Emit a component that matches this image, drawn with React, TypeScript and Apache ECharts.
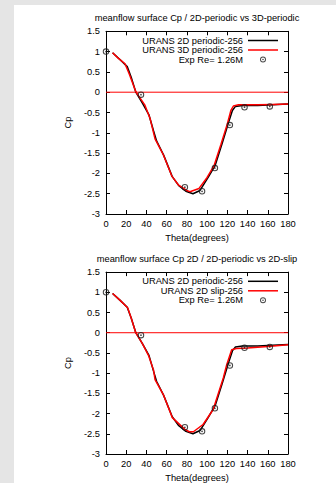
import React, { useEffect, useRef } from 'react';
import * as echarts from 'echarts';

const TITLES = [
  'meanflow surface Cp / 2D-periodic vs 3D-periodic',
  'meanflow surface Cp 2D / 2D-periodic vs 2D-slip',
];
const NAME_2D_PERIODIC = 'URANS 2D periodic-256';
const NAME_3D_PERIODIC = 'URANS 3D periodic-256';
const NAME_2D_SLIP = 'URANS 2D slip-256';
const NAME_EXP = 'Exp Re= 1.26M';
const X_NAME = 'Theta(degrees)';
const Y_NAME = 'Cp';

const X_RANGE = [0, 180, 20];
const Y_RANGE = [-3, 1.5, 0.5];

const urans2dPeriodic: number[][] = [
  [6.5, 0.97], [14, 0.8], [21, 0.63], [25, 0.36], [29.5, 0.0], [36, -0.27],
  [42.5, -0.56], [47, -0.95], [50, -1.2], [57, -1.55], [65.5, -2.08], [72, -2.3],
  [79, -2.44], [86, -2.5], [93, -2.42], [101, -2.1], [108, -1.8], [115, -1.25],
  [121.5, -0.72], [125, -0.45], [128, -0.35], [135, -0.33], [150, -0.33],
  [165, -0.31], [180, -0.29],
];
const urans3dPeriodic: number[][] = [
  [6.5, 0.97], [12, 0.84], [18.8, 0.7], [23, 0.45], [29.7, 0.0], [38.5, -0.32],
  [43.5, -0.64], [48.5, -1.15], [56.7, -1.54], [65, -2.06], [71.5, -2.28],
  [79.8, -2.42], [83, -2.45], [92, -2.37], [100, -2.1], [107, -1.8], [113.5, -1.3],
  [120, -0.78], [123.5, -0.45], [126, -0.34], [131, -0.31], [150, -0.31],
  [165, -0.3], [180, -0.29],
];
const urans2dSlip: number[][] = [
  [6.5, 0.97], [14, 0.8], [21.4, 0.62], [25, 0.36], [29.4, 0.0], [36, -0.27],
  [42, -0.56], [47, -0.92], [48.5, -1.16], [56.7, -1.53], [65.6, -2.1], [78, -2.39],
  [82.4, -2.45], [86.4, -2.45], [96, -2.27], [106, -1.9], [116, -1.12],
  [119.4, -0.79], [124.3, -0.42], [129, -0.39], [140, -0.38], [160, -0.34],
  [180, -0.3],
];
const expData: number[][] = [
  [0, 1.0], [34.6, -0.06], [78, -2.34], [95, -2.44], [107.7, -1.87],
  [122.5, -0.81], [137, -0.37], [162, -0.35],
];
const zeroLine: number[][] = [[0, 0], [180, 0]];

const FONT = 'Liberation Sans, Arial, sans-serif';
const FS = 9.3;
const EXP_SYMBOL =
  'path://M0,10 A10,10 0 1,1 20,10 A10,10 0 1,1 0,10 Z M3.2,10 A6.8,6.8 0 1,0 16.8,10 A6.8,6.8 0 1,0 3.2,10 Z M7.3,10 A2.7,2.7 0 1,1 12.7,10 A2.7,2.7 0 1,1 7.3,10 Z';
const LINE_ICON = 'path://M0,0 L30,0 L30,1.5 L0,1.5 Z';

const GRID_TOPS = [31.3, 272.1];
const PANEL_OFFSET = 240.8;

function buildOption() {
  const txt = { fontFamily: FONT, fontSize: FS, color: '#000' };
  const grids: any[] = [];
  const xAxes: any[] = [];
  const yAxes: any[] = [];
  const titles: any[] = [];
  const legends: any[] = [];
  const series: any[] = [];

  const secondNames = [NAME_3D_PERIODIC, NAME_2D_SLIP];
  const secondData = [urans3dPeriodic, urans2dSlip];

  GRID_TOPS.forEach((top, i) => {
    grids.push({ left: 106, top, width: 182, height: 182.7, show: false });
    const axisCommon = {
      axisLine: { show: true, onZero: false, lineStyle: { color: '#000', width: 1 } },
      axisTick: { show: true, inside: true, length: 4, lineStyle: { color: '#000' } },
      splitLine: { show: false },
    };
    const baseX = {
      type: 'value', gridIndex: i, min: X_RANGE[0], max: X_RANGE[1], interval: X_RANGE[2],
      ...axisCommon,
    };
    const baseY = {
      type: 'value', gridIndex: i, min: Y_RANGE[0], max: Y_RANGE[1], interval: Y_RANGE[2],
      ...axisCommon,
    };
    xAxes.push({
      ...baseX, position: 'bottom',
      axisLabel: { ...txt, margin: 5 },
      name: X_NAME, nameLocation: 'middle', nameGap: 19, nameTextStyle: { ...txt },
    });
    xAxes.push({ ...baseX, position: 'top', axisLabel: { show: false } });
    yAxes.push({
      ...baseY, position: 'left',
      axisLabel: { ...txt, margin: 6 },
      name: Y_NAME, nameLocation: 'middle', nameGap: 34, nameTextStyle: { ...txt },
    });
    yAxes.push({ ...baseY, position: 'right', axisLabel: { show: false } });

    titles.push({
      text: TITLES[i], left: 197, top: 13.4 + i * PANEL_OFFSET, textAlign: 'center', padding: 0,
      textStyle: { ...txt, fontWeight: 'normal' },
    });
    legends.push({
      orient: 'vertical', align: 'right', right: 58, top: 36 + i * PANEL_OFFSET, padding: 0,
      itemWidth: 30, itemHeight: 6, itemGap: 0.5,
      textStyle: { ...txt },
      data: [
        { name: NAME_2D_PERIODIC, icon: LINE_ICON },
        { name: secondNames[i], icon: LINE_ICON },
        { name: NAME_EXP },
      ],
      selectedMode: false,
    });

    const xi = i * 2;
    const yi = i * 2;
    series.push({
      type: 'line', name: 'zero', xAxisIndex: xi, yAxisIndex: yi, data: zeroLine,
      symbol: 'none', lineStyle: { color: '#ff0000', width: 1 }, itemStyle: { color: '#ff0000' },
      silent: true, z: 1,
    });
    series.push({
      type: 'line', name: NAME_2D_PERIODIC, xAxisIndex: xi, yAxisIndex: yi, data: urans2dPeriodic,
      symbol: 'none', lineStyle: { color: '#000', width: 1.5 }, itemStyle: { color: '#000' }, z: 2,
    });
    series.push({
      type: 'line', name: secondNames[i], xAxisIndex: xi, yAxisIndex: yi, data: secondData[i],
      symbol: 'none', lineStyle: { color: '#ff0000', width: 1.5 }, itemStyle: { color: '#ff0000' }, z: 3,
    });
    series.push({
      type: 'scatter', name: NAME_EXP, xAxisIndex: xi, yAxisIndex: yi, data: expData,
      symbol: EXP_SYMBOL, symbolSize: 6.5, itemStyle: { color: '#1a1a1a' }, z: 4,
    });
  });

  return {
    animation: false,
    backgroundColor: '#e5e5e5',
    graphic: [
      { type: 'rect', z: -10, shape: { x: 14, y: 5, width: 322, height: 478 }, style: { fill: '#ffffff' } },
    ],
    title: titles,
    legend: legends,
    grid: grids,
    xAxis: xAxes,
    yAxis: yAxes,
    series,
  };
}

export default function App() {
  const ref = useRef<HTMLDivElement>(null);
  useEffect(() => {
    if (!ref.current) return;
    const chart = echarts.init(ref.current, null, { renderer: 'svg' });
    chart.setOption(buildOption() as any);
    return () => chart.dispose();
  }, []);
  return (
    <div
      ref={ref}
      style={{ position: 'absolute', left: 0, top: 0, width: 336, height: 483 }}
    />
  );
}
